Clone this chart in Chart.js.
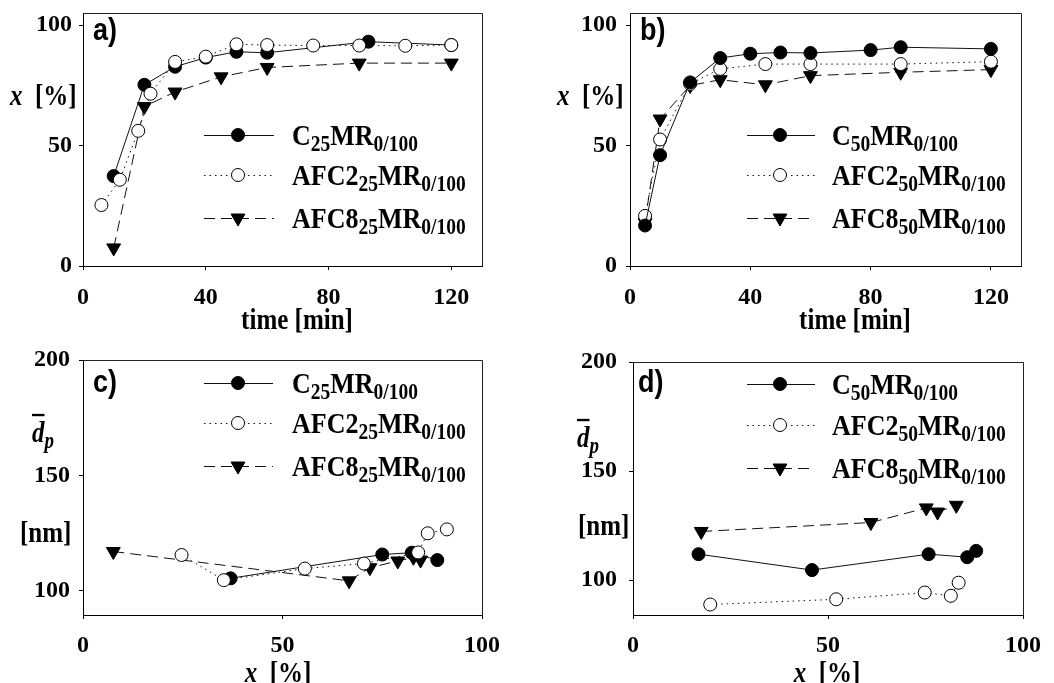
<!DOCTYPE html>
<html>
<head>
<meta charset="utf-8">
<script src="https://cdn.jsdelivr.net/npm/chart.js@4.4.1/dist/chart.umd.min.js"></script>
<style>
  html, body { margin: 0; padding: 0; background: #fff; }
  #page { position: relative; width: 1054px; height: 683px; overflow: hidden; }
  canvas { position: absolute; }
  .txt {
    position: absolute; white-space: nowrap; color: #000;
    font-family: "Liberation Serif", "Times New Roman", serif;
    font-weight: bold; font-size: 25px; line-height: 25px;
  }
  .txt sub { font-size: 19px; vertical-align: -5px; line-height: 0; }
  .leg { font-size: 26px; line-height: 26px; }
  .leg sub { font-size: 19.5px; }
  .tag { font-family: "Liberation Sans", Arial, sans-serif; font-size: 27px; line-height: 27px; }
  .ov { text-decoration: overline; }
</style>
</head>
<body>
<div id="page">
  <canvas id="chartA" width="500" height="340" style="left:0;top:0"></canvas>
  <canvas id="chartB" width="534" height="340" style="left:520px;top:0"></canvas>
  <canvas id="chartC" width="500" height="343" style="left:0;top:340px"></canvas>
  <canvas id="chartD" width="534" height="343" style="left:520px;top:340px"></canvas>
</div>
<script>
// a) conversion vs time, 25
const aTimeC = [10, 20, 30, 40, 50, 60, 93, 120];
const aConvC = [37.3, 75.2, 82.7, 86.5, 88.9, 88.5, 93.1, 91.7];
const aTimeAFC2 = [6, 12, 18, 22, 30, 40, 50, 60, 75, 90, 105, 120];
const aConvAFC2 = [25.3, 35.8, 56.1, 71.5, 84.7, 86.9, 92, 91.7, 91.5, 91.5, 91.4, 91.7];
const aTimeAFC8 = [10, 20, 30, 45, 60, 90, 120];
const aConvAFC8 = [7.5, 66.2, 72.2, 78.5, 82.4, 84.2, 84.2];

// b) conversion vs time, 50
const bTimeC = [5, 10, 20, 30, 40, 50, 60, 80, 90, 120];
const bConvC = [16.8, 46, 76.2, 86.3, 88.1, 88.6, 88.4, 89.6, 90.8, 90.1];
const bTimeAFC2 = [5, 10, 20, 30, 45, 60, 90, 120];
const bConvAFC2 = [20.8, 52.5, 75.6, 81.8, 83.8, 83.8, 83.8, 84.8];
const bTimeAFC8 = [5, 10, 20, 30, 45, 60, 90, 120];
const bConvAFC8 = [18, 61, 74.9, 77.3, 75.2, 79, 80.4, 81.5];

// c) particle size vs conversion, 25
const cConvC = [37, 75, 82.4, 88.8];
const cSizeC = [105.4, 115.7, 116.5, 113.3];
const cConvAFC2 = [24.7, 35.3, 55.6, 70.4, 84, 86.4, 91.2];
const cSizeAFC2 = [115.5, 104.6, 109.6, 111.8, 116.6, 124.9, 126.6];
const cConvAFC8 = [7.6, 66.7, 71.9, 78.9, 82.8, 84.6];
const cSizeAFC8 = [117, 104.3, 110, 112.9, 114.5, 113.3];

// d) particle size vs conversion, 50
const dConvC = [16.8, 45.9, 75.8, 85.7, 88];
const dSizeC = [111.9, 104.6, 111.9, 110.5, 113.4];
const dConvAFC2 = [19.8, 52.1, 74.8, 81.5, 83.5];
const dSizeAFC2 = [88.8, 91.2, 94.3, 92.8, 98.8];
const dConvAFC8 = [17.5, 61, 75.2, 78.1, 82.9];
const dSizeAFC8 = [122.3, 126.4, 133.1, 131.2, 134.3];

const timeTicks = [0, 40, 80, 120];
const convTicks = [0, 50, 100];
const sizeTicks = [100, 150, 200];

const legend25 = ["C<sub>25</sub>MR<sub>0/100</sub>", "AFC2<sub>25</sub>MR<sub>0/100</sub>", "AFC8<sub>25</sub>MR<sub>0/100</sub>"];
const legend50 = ["C<sub>50</sub>MR<sub>0/100</sub>", "AFC2<sub>50</sub>MR<sub>0/100</sub>", "AFC8<sub>50</sub>MR<sub>0/100</sub>"];

function pts(xs, ys) {
    return xs.map((x, i) => ({ x: x, y: ys[i] }));
}

const seriesStyle = [
    { pointStyle: "circle", pointRadius: 6.5, pointRotation: 0, fill: "#000", dash: [] },
    { pointStyle: "circle", pointRadius: 6.5, pointRotation: 0, fill: "#fff", dash: [1.5, 4] },
    { pointStyle: "triangle", pointRadius: 8, pointRotation: 180, fill: "#000", dash: [11, 6] },
];

function buildDatasets(series, orders) {
    return series.map((s, i) => {
        const st = seriesStyle[i];
        return {
            data: s,
            showLine: true,
            borderColor: "#111",
            borderWidth: 1,
            borderDash: st.dash,
            pointStyle: st.pointStyle,
            pointRadius: st.pointRadius,
            pointRotation: st.pointRotation,
            pointBackgroundColor: st.fill,
            pointBorderColor: "#000",
            pointBorderWidth: 1,
            order: orders[i],
        };
    });
}

// box around the plot + legend samples
const framePlugin = {
    id: "frame",
    afterDraw(chart) {
        const a = chart.chartArea;
        const ctx = chart.ctx;
        ctx.save();
        ctx.strokeStyle = "#222";
        ctx.lineWidth = 1;
        ctx.beginPath();
        ctx.moveTo(a.left, a.top + 0.5);
        ctx.lineTo(a.right + 0.5, a.top + 0.5);
        ctx.lineTo(a.right + 0.5, a.bottom);
        ctx.stroke();

        const lg = chart.options.plugins.frame;
        lg.rows.forEach((y, i) => {
            const st = seriesStyle[i];
            ctx.strokeStyle = "#111";
            ctx.setLineDash(st.dash);
            ctx.beginPath();
            ctx.moveTo(lg.x0, y + 0.5);
            ctx.lineTo(lg.x1, y + 0.5);
            ctx.stroke();
            ctx.setLineDash([]);
            ctx.fillStyle = st.fill;
            ctx.strokeStyle = "#000";
            Chart.helpers.drawPoint(ctx, {
                pointStyle: st.pointStyle,
                radius: st.pointRadius,
                rotation: st.pointRotation,
                borderWidth: 1,
            }, lg.xm, y);
        });
        ctx.restore();
    },
};

function makePanel(id, p) {
    const tickFont = { family: "Liberation Serif", size: 24, weight: "bold" };
    return new Chart(document.getElementById(id), {
        type: "scatter",
        data: { datasets: buildDatasets(p.series, p.orders) },
        options: {
            responsive: false,
            animation: false,
            layout: { padding: { left: 0, top: p.padTop, right: p.padRight, bottom: 0 } },
            plugins: {
                legend: { display: false },
                tooltip: { enabled: false },
                frame: p.legend,
            },
            scales: {
                x: {
                    type: "linear",
                    min: p.xMin,
                    max: p.xMax,
                    afterBuildTicks: (s) => { s.ticks = p.xTicks.map((v) => ({ value: v })); },
                    afterFit: (s) => {
                        s.height = p.xHeight;
                        s.paddingLeft = 0;
                        s.paddingRight = 0;
                    },
                    grid: { drawOnChartArea: false, tickLength: 4, color: "#000" },
                    border: { color: "#000", width: 1 },
                    ticks: { font: tickFont, color: "#000", padding: p.xPad, maxRotation: 0, autoSkip: false },
                },
                y: {
                    type: "linear",
                    min: p.yMin,
                    max: p.yMax,
                    afterBuildTicks: (s) => { s.ticks = p.yTicks.map((v) => ({ value: v })); },
                    afterFit: (s) => {
                        s.width = p.yWidth;
                        s.paddingTop = 0;
                        s.paddingBottom = 0;
                    },
                    grid: { drawOnChartArea: false, tickLength: 4, color: "#000" },
                    border: { color: "#000", width: 1 },
                    ticks: { font: tickFont, color: "#000", padding: p.yPad, autoSkip: false },
                },
            },
        },
        plugins: [framePlugin],
    });
}

makePanel("chartA", {
    series: [pts(aTimeC, aConvC), pts(aTimeAFC2, aConvAFC2), pts(aTimeAFC8, aConvAFC8)],
    orders: [1, 0, 2],
    xMin: 0, xMax: 130, xTicks: timeTicks,
    yMin: 0, yMax: 105, yTicks: convTicks,
    padTop: 13, padRight: 18, yWidth: 83, xHeight: 74, xPad: 13, yPad: 7,
    legend: { x0: 204, x1: 274, xm: 238, rows: [135, 175, 218] },
});

makePanel("chartB", {
    series: [pts(bTimeC, bConvC), pts(bTimeAFC2, bConvAFC2), pts(bTimeAFC8, bConvAFC8)],
    orders: [0, 1, 2],
    xMin: 0, xMax: 130, xTicks: timeTicks,
    yMin: 0, yMax: 105, yTicks: convTicks,
    padTop: 13, padRight: 33, yWidth: 110, xHeight: 74, xPad: 13, yPad: 9,
    legend: { x0: 227, x1: 295, xm: 260, rows: [135, 175, 218] },
});

makePanel("chartC", {
    series: [pts(cConvC, cSizeC), pts(cConvAFC2, cSizeAFC2), pts(cConvAFC8, cSizeAFC8)],
    orders: [1, 0, 2],
    xMin: 0, xMax: 100, xTicks: convTicks,
    yMin: 89.5, yMax: 200, yTicks: sizeTicks,
    padTop: 20, padRight: 18, yWidth: 83, xHeight: 68, xPad: 12, yPad: 9,
    legend: { x0: 204, x1: 273, xm: 238, rows: [43, 83, 126] },
});

makePanel("chartD", {
    series: [pts(dConvC, dSizeC), pts(dConvAFC2, dSizeAFC2), pts(dConvAFC8, dSizeAFC8)],
    orders: [0, 1, 2],
    xMin: 0, xMax: 100, xTicks: convTicks,
    yMin: 84, yMax: 200, yTicks: sizeTicks,
    padTop: 22, padRight: 31, yWidth: 113, xHeight: 68, xPad: 12, yPad: 12,
    legend: { x0: 227, x1: 295, xm: 260, rows: [44, 85, 128] },
});

// text overlays (subscripts need html), stretched a bit like the original
const page = document.getElementById("page");
function addText(html, x, y, cls, centered) {
    const el = document.createElement("div");
    el.className = "txt" + (cls ? " " + cls : "");
    el.innerHTML = html;
    el.style.left = x + "px";
    el.style.top = y + "px";
    el.style.transform = (centered ? "translate(-50%, -50%)" : "translateY(-50%)") + " scaleY(1.17)";
    page.appendChild(el);
}

const xTitle = "<i>x</i>&nbsp;&nbsp;[%]";
const dTitle = "<i><span class=\"ov\">d</span><sub>p</sub></i>";

addText("a)", 93, 30, "tag");
addText(xTitle, 10, 95);
addText("time [min]", 297, 319, "", true);
legend25.forEach((t, i) => addText(t, 292, [136, 176, 219][i], "leg"));

addText("b)", 640, 30, "tag");
addText(xTitle, 557, 95);
addText("time [min]", 855, 319, "", true);
legend50.forEach((t, i) => addText(t, 832, [136, 176, 219][i], "leg"));

addText("c)", 93, 382, "tag");
addText(dTitle, 32, 432);
addText("[nm]", 20, 532);
addText(xTitle, 278, 672, "", true);
legend25.forEach((t, i) => addText(t, 292, [384, 424, 467][i], "leg"));

addText("d)", 638, 382, "tag");
addText(dTitle, 577, 437);
addText("[nm]", 578, 525);
addText(xTitle, 827, 672, "", true);
legend50.forEach((t, i) => addText(t, 832, [385, 426, 469][i], "leg"));
</script>
</body>
</html>
